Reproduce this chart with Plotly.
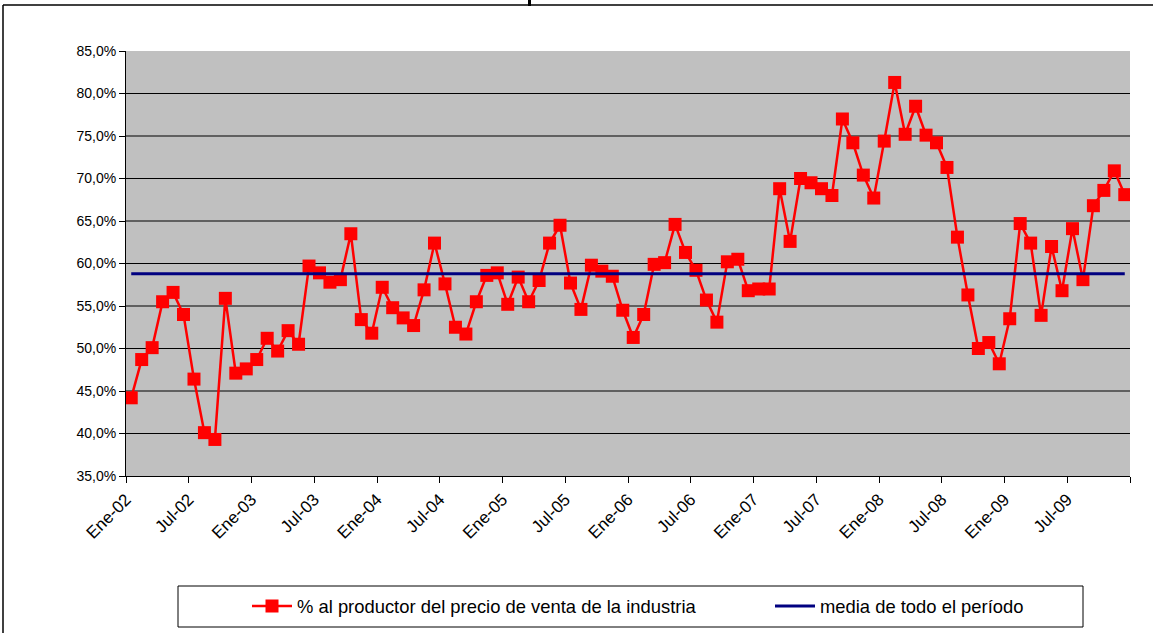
import plotly.graph_objects as go

# ---- data ----
meses = ["Ene", "Feb", "Mar", "Abr", "May", "Jun", "Jul", "Ago", "Sep", "Oct", "Nov", "Dic"]
years = ["02", "03", "04", "05", "06", "07", "08", "09"]
categories = [f"{m}-{y}" for y in years for m in meses]

pct_productor = [
    44.2, 48.7, 50.1, 55.5, 56.6, 54.0, 46.4, 40.1, 39.3, 55.9, 47.1, 47.6,   # 2002
    48.7, 51.2, 49.7, 52.1, 50.5, 59.7, 58.9, 57.8, 58.1, 63.5, 53.4, 51.8,   # 2003
    57.2, 54.8, 53.6, 52.7, 56.9, 62.4, 57.6, 52.5, 51.7, 55.5, 58.6, 58.9,   # 2004
    55.2, 58.4, 55.5, 58.0, 62.4, 64.5, 57.7, 54.6, 59.8, 59.1, 58.5, 54.5,   # 2005
    51.3, 54.0, 59.9, 60.1, 64.6, 61.3, 59.2, 55.7, 53.1, 60.2, 60.5, 56.8,   # 2006
    57.0, 57.0, 68.8, 62.6, 70.0, 69.5, 68.8, 68.0, 77.0, 74.2, 70.4, 67.7,   # 2007
    74.4, 81.3, 75.2, 78.5, 75.1, 74.2, 71.3, 63.1, 56.3, 50.0, 50.7, 48.2,   # 2008
    53.5, 64.7, 62.4, 53.9, 62.0, 56.8, 64.1, 58.1, 66.8, 68.6, 70.9, 68.1,   # 2009
]
media_periodo = 58.8

tick_labels = ["Ene-02", "Jul-02", "Ene-03", "Jul-03", "Ene-04", "Jul-04", "Ene-05", "Jul-05",
               "Ene-06", "Jul-06", "Ene-07", "Jul-07", "Ene-08", "Jul-08", "Ene-09", "Jul-09", ""]
y_ticks = [35, 40, 45, 50, 55, 60, 65, 70, 75, 80, 85]
y_tick_text = ["35,0%", "40,0%", "45,0%", "50,0%", "55,0%", "60,0%",
               "65,0%", "70,0%", "75,0%", "80,0%", "85,0%"]
grid_values = [40, 45, 50, 55, 60, 65, 70, 75, 80]

# category centres sit between tick marks (Excel style)
x_pos = [i + 0.5 for i in range(len(categories))]
tick_pos = [categories.index(lbl) if lbl else len(categories) for lbl in tick_labels]

FONT = "Liberation Sans, Arial, sans-serif"

fig = go.Figure()
fig.add_trace(go.Scatter(
    x=x_pos, y=pct_productor, customdata=categories,
    mode="lines+markers",
    name="% al productor del precio de venta de la industria",
    line=dict(color="#FF0000", width=2.5),
    marker=dict(symbol="square", size=13, color="#FF0000", line=dict(width=0)),
    legend="legend",
))
fig.add_trace(go.Scatter(
    x=[x_pos[0], x_pos[-1]], y=[media_periodo, media_periodo],
    mode="lines",
    name="media de todo el período",
    line=dict(color="#000080", width=3),
    legend="legend2",
))

W, H = 1153, 633
L, R, T, B = 126, 23, 51, 157
pw, ph = W - L - R, H - T - B


def px(x):
    return (x - L) / pw


def py(y):
    return 1 - (y - T) / ph


shapes = [
    # horizontal gridlines (no line at the 85% top edge)
    *[dict(type="line", xref="paper", yref="y", x0=0, x1=1, y0=g, y1=g, layer="below",
           line=dict(color="black", width=1)) for g in grid_values],
    # outer chart frame (top and left edges visible)
    dict(type="line", xref="paper", yref="paper", x0=px(3), x1=px(W + 5), y0=py(5), y1=py(5),
         line=dict(color="black", width=1.5)),
    dict(type="line", xref="paper", yref="paper", x0=px(3), x1=px(3), y0=py(5), y1=py(H + 5),
         line=dict(color="black", width=1.5)),
    # cut-off title glyph descender
    dict(type="line", xref="paper", yref="paper", x0=px(529.5), x1=px(529.5), y0=py(-2), y1=py(6),
         line=dict(color="black", width=3)),
    # legend box
    dict(type="rect", xref="paper", yref="paper", x0=px(178), x1=px(1083), y0=py(586), y1=py(627),
         line=dict(color="black", width=1), fillcolor="rgba(0,0,0,0)"),
]

legend_common = dict(
    orientation="h",
    xref="container", yref="container",
    xanchor="left", yanchor="middle",
    bgcolor="rgba(0,0,0,0)", borderwidth=0,
    font=dict(family=FONT, size=18.4, color="black"),
    itemwidth=40,
)

fig.update_layout(
    width=W, height=H,
    margin=dict(l=L, r=R, t=T, b=B, pad=0),
    paper_bgcolor="white",
    plot_bgcolor="#C0C0C0",
    separators=",.",
    font=dict(family=FONT, size=14, color="black"),
    showlegend=True,
    legend=dict(x=247 / W, y=1 - 606 / H, **legend_common),
    legend2=dict(x=770 / W, y=1 - 606 / H, **legend_common),
    shapes=shapes,
)

fig.update_xaxes(
    range=[0, len(categories)],
    tickmode="array", tickvals=tick_pos, ticktext=tick_labels,
    tickangle=-45,
    ticks="outside", ticklen=6, tickcolor="black", tickwidth=1,
    showline=True, linecolor="black", linewidth=1,
    showgrid=False, zeroline=False,
    tickfont=dict(family=FONT, size=17, color="black"),
)
fig.update_yaxes(
    range=[35, 85],
    tickmode="array", tickvals=y_ticks, ticktext=y_tick_text,
    ticks="outside", ticklen=6, tickcolor="black", tickwidth=1,
    showline=True, linecolor="black", linewidth=1,
    showgrid=False,
    zeroline=False,
    tickfont=dict(family=FONT, size=14, color="black"),
)

fig.write_html("out.html", config={"displayModeBar": False},
               post_script="document.body.style.margin='0px';")
